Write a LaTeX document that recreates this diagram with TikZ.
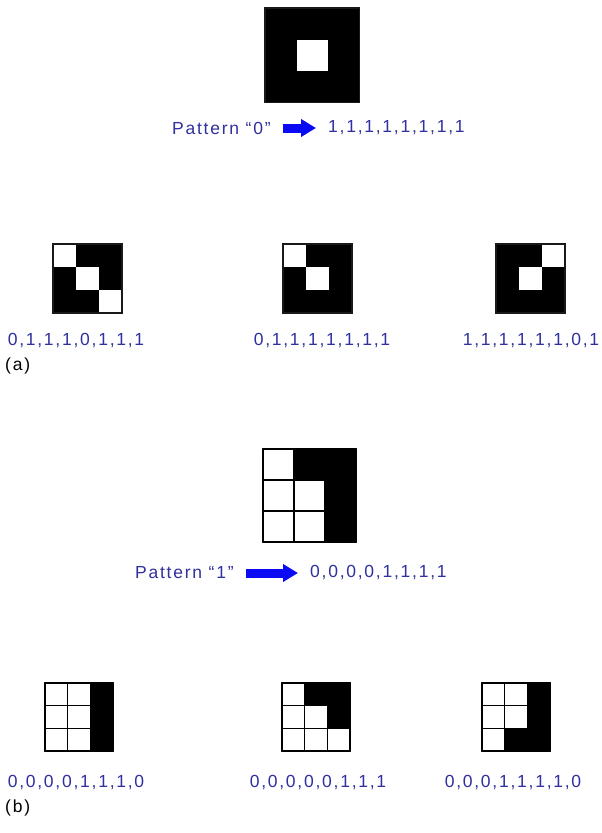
\documentclass[tikz,border=0pt]{standalone}
\usepackage{fontspec}
\setmainfont{Liberation Sans}[LetterSpace=10]
\usepackage{tikz}
\usetikzlibrary{arrows.meta, positioning}

\definecolor{patblue}{RGB}{48,48,160}
\definecolor{arrowblue}{RGB}{10,10,245}

% 3x3 pattern: top-left corner, cell size, base colour, cell colour, cells (col/row)
\newcommand{\patcells}[6]{%
  \fill[#4] (#1,#2) rectangle ++(3*#3,3*#3);
  \foreach \c/\r in {#6}
    \fill[#5] ({#1+\c*#3},{#2+\r*#3}) rectangle ++(#3,#3);
  \draw[patborder] (#1,#2) rectangle ++(3*#3,3*#3);
}
% grid lines over a pattern
\newcommand{\patlines}[3]{%
  \foreach \k in {0,1,2,3} {
    \draw[gridline] ({#1+\k*#3},#2) -- ++(0,3*#3);
    \draw[gridline] (#1,{#2+\k*#3}) -- ++(3*#3,0);
  }
}

\begin{document}
\begin{tikzpicture}[x=1pt, y=-1pt,
    code/.style={font=\fontsize{17.5}{20}\selectfont, text=patblue, inner sep=0pt},
    tag/.style={font=\fontsize{17.5}{20}\selectfont, text=black, inner sep=0pt, anchor=west},
    bigarrow/.style={arrowblue, line width=9pt, -{Triangle[length=15pt, width=17pt]},
                     shorten <=12pt, shorten >=12pt},
    patborder/.style={draw=black!90, line width=1.2pt},
    gridline/.style={draw=black, line width=1.5pt}]

    \useasboundingbox[fill=white] (0,0) rectangle (602,833);

    % (a) pattern "0"
    \patcells{265}{8}{31.5}{black}{white}{1/1}
    \node[code, anchor=west] (p0) at (172,128) {Pattern “0”};
    \node[code, anchor=west] (c0) at (328,128) {1,1,1,1,1,1,1,1};
    \draw[bigarrow] (p0.east) -- (c0.west);

    \patcells{53}{244}{23}{black}{white}{0/0, 1/1, 2/2}
    \patcells{283}{244}{23}{black}{white}{0/0, 1/1}
    \patcells{496}{244}{23}{black}{white}{2/0, 1/1}
    \node[code] (a1) at (76,341) {0,1,1,1,0,1,1,1};
    \node[code] (a2) at (322,341) {0,1,1,1,1,1,1,1};
    \node[code] (a3) at (531,341) {1,1,1,1,1,1,0,1};
    \node[tag] (a) at (5,366) {(a)};

    % (b) pattern "1"
    \patcells{263}{449}{31}{white}{black}{1/0, 2/0, 2/1, 2/2}
    \patlines{263}{449}{31}
    \node[code, anchor=west] (p1) at (135,573) {Pattern “1”};
    \node[code, anchor=west] (c1) at (310,573) {0,0,0,0,1,1,1,1};
    \draw[bigarrow] (p1.east) -- (c1.west);

    \patcells{45}{683}{22.7}{white}{black}{2/0, 2/1, 2/2}
    \patlines{45}{683}{22.7}
    \patcells{282}{683}{22.7}{white}{black}{1/0, 2/0, 2/1}
    \patlines{282}{683}{22.7}
    \patcells{482}{683}{22.7}{white}{black}{2/0, 2/1, 1/2, 2/2}
    \patlines{482}{683}{22.7}
    \node[code] (b1) at (76,782) {0,0,0,0,1,1,1,0};
    \node[code] (b2) at (318,782) {0,0,0,0,0,1,1,1};
    \node[code] (b3) at (513,782) {0,0,0,1,1,1,1,0};
    \node[tag] (b) at (5,808) {(b)};

\end{tikzpicture}
\end{document}
